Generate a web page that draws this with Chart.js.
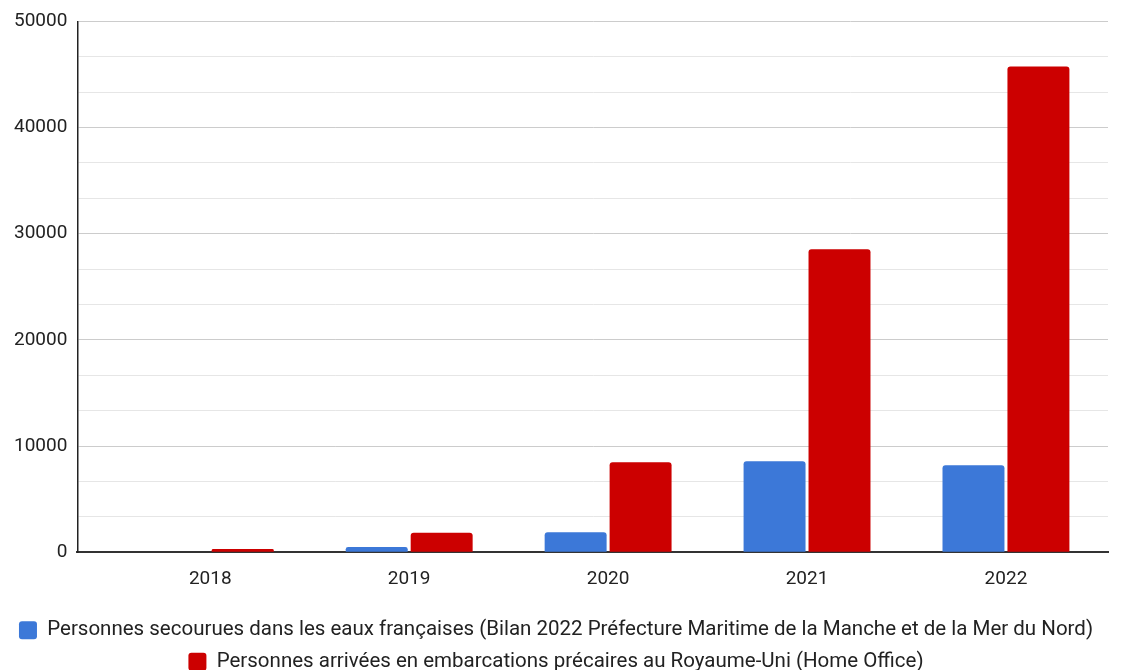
<!DOCTYPE html>
<html>
<head>
<meta charset="utf-8">
<script src="https://cdn.jsdelivr.net/npm/chart.js@4"></script>
<style>
  html, body { margin: 0; padding: 0; background: #fff; overflow: hidden; }
  #wrap { width: 1132px; height: 682px; position: relative; }
</style>
</head>
<body>
<div id="wrap"><canvas id="chart"></canvas></div>
<script>
// data
const years = [2018, 2019, 2020, 2021, 2022];
const rescued = [0, 500, 1880, 8560, 8200];      // Préfecture Maritime
const arrivals = [299, 1843, 8466, 28526, 45755]; // Home Office
const yTicks = [0, 10000, 20000, 30000, 40000, 50000];

const seriesNames = [
  'Personnes secourues dans les eaux françaises (Bilan 2022 Préfecture Maritime de la Manche et de la Mer du Nord)',
  'Personnes arrivées en embarcations précaires au Royaume-Uni (Home Office)'
];

const toPoints = vals => years.map((x, i) => ({ x: x, y: vals[i] }));
const isMajor = v => yTicks.some(t => Math.abs(t - v) < 1);

const ctx = document.getElementById('chart').getContext('2d');
new Chart(ctx, {
  type: 'bar',
  data: {
    datasets: [
      {
        label: seriesNames[0],
        data: toPoints(rescued),
        backgroundColor: '#3c78d8',
        borderRadius: 3,
        borderSkipped: 'bottom',
        categoryPercentage: 0.653,
        barPercentage: 0.954
      },
      {
        label: seriesNames[1],
        data: toPoints(arrivals),
        backgroundColor: '#cc0000',
        borderRadius: 3,
        borderSkipped: 'bottom',
        categoryPercentage: 0.653,
        barPercentage: 0.954
      }
    ]
  },
  options: {
    responsive: true,
    maintainAspectRatio: false,
    animation: false,
    layout: { padding: { left: 4, right: 24, top: 8, bottom: 0 } },
    font: { family: 'Roboto' },
    scales: {
      x: {
        type: 'linear',
        offset: false,
        min: years[0] - 0.668,
        max: years[years.length - 1] + 0.513,
        grid: { display: false },
        border: { display: true, color: '#333', width: 2 },
        // extra room between the year labels and the legend
        afterFit: s => { s.height += 10; },
        ticks: {
          stepSize: 1,
          includeBounds: false,
          padding: 8,
          color: '#222',
          font: { family: 'Roboto', size: 19 },
          callback: v => String(v)
        }
      },
      y: {
        min: 0,
        max: 50000,
        grid: {
          drawTicks: false,
          color: c => isMajor(c.tick.value) ? '#cccccc' : '#e6e6e6'
        },
        border: { display: true, color: '#222', width: 1.5 },
        ticks: {
          stepSize: 10000 / 3,
          maxTicksLimit: 30,
          padding: 10,
          color: '#222',
          font: { family: 'Roboto', size: 19 },
          callback: v => isMajor(v) ? String(Math.round(v)) : ''
        }
      }
    },
    plugins: {
      tooltip: { enabled: false },
      legend: {
        position: 'bottom',
        labels: {
          color: '#222',
          font: { family: 'Roboto', size: 20.5 },
          boxWidth: 18,
          boxHeight: 18,
          useBorderRadius: true,
          borderRadius: 3,
          padding: 11
        }
      }
    }
  }
});
</script>
</body>
</html>
